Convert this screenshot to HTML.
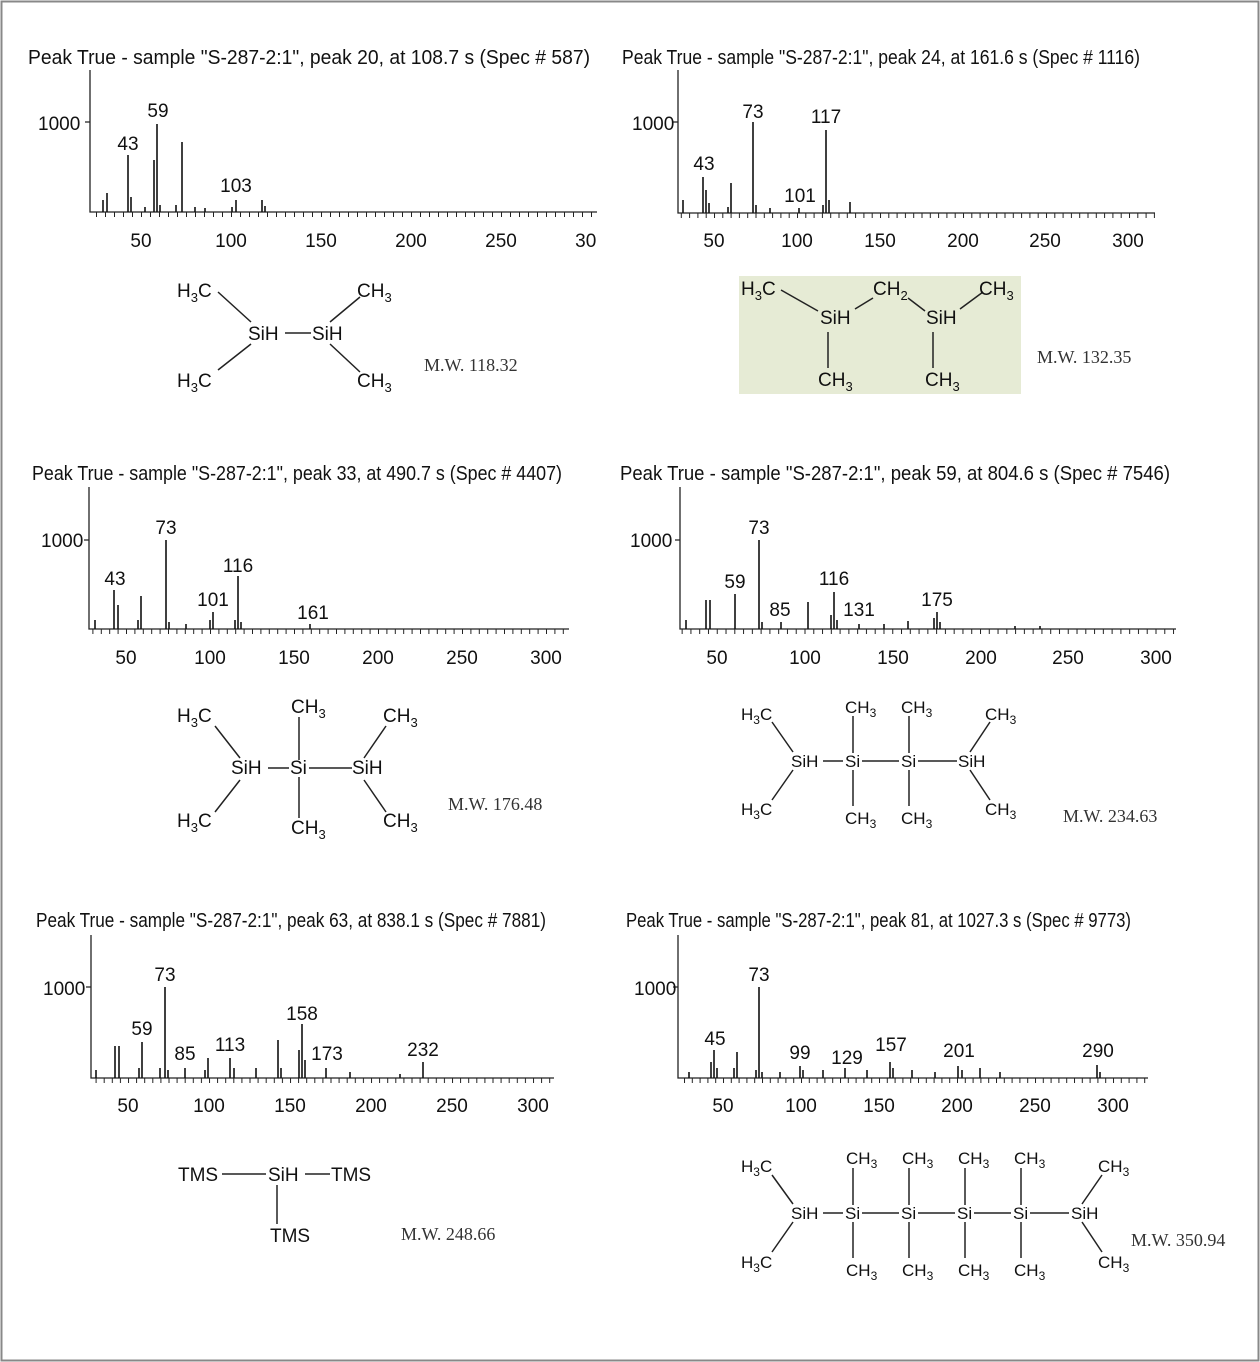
<!DOCTYPE html>
<html><head><meta charset="utf-8"><style>
html,body{margin:0;padding:0;background:#fff}
svg{display:block}
text{font-family:"Liberation Sans",sans-serif;fill:#111}
.t{font-size:20px}
.n{font-size:19px}
.m{font-size:19px}
.s{font-size:17px}
.mw{font-family:"Liberation Serif",serif;font-size:18px;fill:#333}
.ax{stroke:#222;stroke-width:1.3;fill:none}
.pk{stroke:#111;stroke-width:1.6;fill:none}
.b{stroke:#222;stroke-width:1.5}
</style></head><body>
<svg width="1260" height="1362" viewBox="0 0 1260 1362" xmlns="http://www.w3.org/2000/svg">
<defs>
<pattern id="p1" patternUnits="userSpaceOnUse" x="51" y="212" width="9" height="6"><line x1="0.5" y1="0" x2="0.5" y2="5" stroke="#222"/></pattern>
<pattern id="p2" patternUnits="userSpaceOnUse" x="631" y="213" width="8.3" height="6"><line x1="0.5" y1="0" x2="0.5" y2="5" stroke="#222"/></pattern>
<pattern id="p3" patternUnits="userSpaceOnUse" x="42" y="629" width="8.4" height="6"><line x1="0.5" y1="0" x2="0.5" y2="5" stroke="#222"/></pattern>
<pattern id="p4" patternUnits="userSpaceOnUse" x="629" y="629" width="8.775" height="6"><line x1="0.5" y1="0" x2="0.5" y2="5" stroke="#222"/></pattern>
<pattern id="p5" patternUnits="userSpaceOnUse" x="47" y="1078" width="8.1" height="6"><line x1="0.5" y1="0" x2="0.5" y2="5" stroke="#222"/></pattern>
<pattern id="p6" patternUnits="userSpaceOnUse" x="645" y="1078" width="7.8" height="6"><line x1="0.5" y1="0" x2="0.5" y2="5" stroke="#222"/></pattern>
<clipPath id="c1"><rect x="0" y="0" width="597" height="400"/></clipPath>
</defs>
<rect x="1.5" y="1.5" width="1257" height="1359" fill="#fff" stroke="#888" stroke-width="2"/>

<!-- Panel 1 -->
<text class="t" x="28" y="64" textLength="562" lengthAdjust="spacingAndGlyphs">Peak True - sample "S-287-2:1", peak 20, at 108.7 s (Spec # 587)</text>
<path class="ax" d="M90 70 V212 H597 M85 122 H90"/>
<rect x="90" y="212" width="507" height="5" fill="url(#p1)"/>
<text class="n" x="38" y="130">1000</text>
<g class="n" text-anchor="middle"><text x="141" y="247">50</text><text x="231" y="247">100</text><text x="321" y="247">150</text><text x="411" y="247">200</text><text x="501" y="247">250</text><text x="591" y="247" clip-path="url(#c1)">300</text></g>
<path class="pk" d="M103 212V200M107 212V193M128 212V155M131 212V197M145 212V207M154 212V160M157 212V124M160 212V205M176 212V205M182 212V142M195 212V207M205 212V208M232 212V207M236 212V200M262 212V200M265 212V206"/>
<g class="n" text-anchor="middle"><text x="128" y="150">43</text><text x="158" y="117">59</text><text x="236" y="192">103</text></g>
<g class="b"><line x1="218" y1="292" x2="251" y2="322"/><line x1="218" y1="370" x2="251" y2="344"/><line x1="285" y1="333" x2="311" y2="333"/><line x1="330" y1="322" x2="360" y2="297"/><line x1="330" y1="344" x2="360" y2="372"/></g>
<text class="m" x="177" y="297">H<tspan font-size="13" dy="5">3</tspan><tspan dy="-5">C</tspan></text>
<text class="m" x="177" y="387">H<tspan font-size="13" dy="5">3</tspan><tspan dy="-5">C</tspan></text>
<text class="m" x="248" y="340">SiH</text><text class="m" x="312" y="340">SiH</text>
<text class="m" x="357" y="297">CH<tspan font-size="13" dy="5">3</tspan></text>
<text class="m" x="357" y="387">CH<tspan font-size="13" dy="5">3</tspan></text>
<text class="mw" x="424" y="371">M.W. 118.32</text>

<!-- Panel 2 -->
<text class="t" x="622" y="64" textLength="518" lengthAdjust="spacingAndGlyphs">Peak True - sample "S-287-2:1", peak 24, at 161.6 s (Spec # 1116)</text>
<path class="ax" d="M678 70 V213 H1155 M673 122 H678"/>
<rect x="678" y="213" width="477" height="5" fill="url(#p2)"/>
<text class="n" x="632" y="130">1000</text>
<g class="n" text-anchor="middle"><text x="714" y="247">50</text><text x="797" y="247">100</text><text x="880" y="247">150</text><text x="963" y="247">200</text><text x="1045" y="247">250</text><text x="1128" y="247">300</text></g>
<path class="pk" d="M683 213V200M703 213V177M706 213V190M709 213V203M728 213V207M731 213V183M753 213V122M756 213V205M770 213V208M799 213V208M823 213V205M826 213V130M829 213V200M850 213V202"/>
<g class="n" text-anchor="middle"><text x="704" y="170">43</text><text x="753" y="118">73</text><text x="826" y="123">117</text><text x="800" y="202">101</text></g>
<rect x="739" y="276" width="282" height="118" fill="#e6ebd5"/>
<g class="b"><line x1="781" y1="290" x2="818" y2="311"/><line x1="855" y1="309" x2="873" y2="298"/><line x1="908" y1="298" x2="925" y2="311"/><line x1="960" y1="309" x2="983" y2="292"/><line x1="828" y1="332" x2="828" y2="368"/><line x1="933" y1="332" x2="933" y2="368"/></g>
<text class="m" x="741" y="295">H<tspan font-size="13" dy="5">3</tspan><tspan dy="-5">C</tspan></text>
<text class="m" x="873" y="295">CH<tspan font-size="13" dy="5">2</tspan></text>
<text class="m" x="979" y="295">CH<tspan font-size="13" dy="5">3</tspan></text>
<text class="m" x="820" y="324">SiH</text><text class="m" x="926" y="324">SiH</text>
<text class="m" x="818" y="386">CH<tspan font-size="13" dy="5">3</tspan></text>
<text class="m" x="925" y="386">CH<tspan font-size="13" dy="5">3</tspan></text>
<text class="mw" x="1037" y="363">M.W. 132.35</text>

<!-- Panel 3 -->
<text class="t" x="32" y="480" textLength="530" lengthAdjust="spacingAndGlyphs">Peak True - sample "S-287-2:1", peak 33, at 490.7 s (Spec # 4407)</text>
<path class="ax" d="M89 487 V629 H569 M84 540 H89"/>
<rect x="89" y="629" width="480" height="5" fill="url(#p3)"/>
<text class="n" x="41" y="547">1000</text>
<g class="n" text-anchor="middle"><text x="126" y="664">50</text><text x="210" y="664">100</text><text x="294" y="664">150</text><text x="378" y="664">200</text><text x="462" y="664">250</text><text x="546" y="664">300</text></g>
<path class="pk" d="M95 629V620M114 629V590M118 629V605M138 629V620M141 629V596M166 629V540M169 629V622M186 629V624M210 629V620M213 629V612M235 629V620M238 629V576M241 629V622M310 629V624"/>
<g class="n" text-anchor="middle"><text x="115" y="585">43</text><text x="166" y="534">73</text><text x="238" y="572">116</text><text x="213" y="606">101</text><text x="313" y="619">161</text></g>
<g class="b"><line x1="215" y1="726" x2="240" y2="758"/><line x1="215" y1="812" x2="240" y2="780"/><line x1="268" y1="768" x2="289" y2="768"/><line x1="309" y1="768" x2="352" y2="768"/><line x1="299" y1="717" x2="299" y2="760"/><line x1="299" y1="777" x2="299" y2="818"/><line x1="364" y1="758" x2="386" y2="726"/><line x1="364" y1="780" x2="386" y2="812"/></g>
<text class="m" x="177" y="722">H<tspan font-size="13" dy="5">3</tspan><tspan dy="-5">C</tspan></text>
<text class="m" x="177" y="827">H<tspan font-size="13" dy="5">3</tspan><tspan dy="-5">C</tspan></text>
<text class="m" x="291" y="713">CH<tspan font-size="13" dy="5">3</tspan></text>
<text class="m" x="291" y="834">CH<tspan font-size="13" dy="5">3</tspan></text>
<text class="m" x="383" y="722">CH<tspan font-size="13" dy="5">3</tspan></text>
<text class="m" x="383" y="827">CH<tspan font-size="13" dy="5">3</tspan></text>
<text class="m" x="231" y="774">SiH</text><text class="m" x="290" y="774">Si</text><text class="m" x="352" y="774">SiH</text>
<text class="mw" x="448" y="810">M.W. 176.48</text>

<!-- Panel 4 -->
<text class="t" x="620" y="480" textLength="550" lengthAdjust="spacingAndGlyphs">Peak True - sample "S-287-2:1", peak 59, at 804.6 s (Spec # 7546)</text>
<path class="ax" d="M680 487 V629 H1176 M675 540 H680"/>
<rect x="680" y="629" width="496" height="5" fill="url(#p4)"/>
<text class="n" x="630" y="547">1000</text>
<g class="n" text-anchor="middle"><text x="717" y="664">50</text><text x="805" y="664">100</text><text x="893" y="664">150</text><text x="981" y="664">200</text><text x="1068" y="664">250</text><text x="1156" y="664">300</text></g>
<path class="pk" d="M686 629V620M706 629V600M710 629V600M735 629V594M759 629V540M762 629V622M781 629V622M808 629V602M831 629V615M834 629V592M837 629V620M859 629V624M884 629V624M908 629V621M934 629V618M937 629V612M940 629V622M1015 629V626M1040 629V626"/>
<g class="n" text-anchor="middle"><text x="735" y="588">59</text><text x="759" y="534">73</text><text x="834" y="585">116</text><text x="937" y="606">175</text><text x="780" y="616">85</text><text x="859" y="616">131</text></g>
<g class="b"><line x1="772" y1="722" x2="793" y2="752"/><line x1="772" y1="800" x2="793" y2="770"/><line x1="823" y1="761" x2="843" y2="761"/><line x1="862" y1="761" x2="899" y2="761"/><line x1="918" y1="761" x2="957" y2="761"/><line x1="853" y1="716" x2="853" y2="753"/><line x1="853" y1="770" x2="853" y2="806"/><line x1="909" y1="716" x2="909" y2="753"/><line x1="909" y1="770" x2="909" y2="806"/><line x1="970" y1="752" x2="990" y2="722"/><line x1="970" y1="770" x2="990" y2="800"/></g>
<g class="s">
<text x="741" y="720">H<tspan font-size="12" dy="4">3</tspan><tspan dy="-4">C</tspan></text>
<text x="741" y="815">H<tspan font-size="12" dy="4">3</tspan><tspan dy="-4">C</tspan></text>
<text x="845" y="713">CH<tspan font-size="12" dy="4">3</tspan></text>
<text x="901" y="713">CH<tspan font-size="12" dy="4">3</tspan></text>
<text x="985" y="720">CH<tspan font-size="12" dy="4">3</tspan></text>
<text x="845" y="824">CH<tspan font-size="12" dy="4">3</tspan></text>
<text x="901" y="824">CH<tspan font-size="12" dy="4">3</tspan></text>
<text x="985" y="815">CH<tspan font-size="12" dy="4">3</tspan></text>
<text x="791" y="767">SiH</text><text x="845" y="767">Si</text><text x="901" y="767">Si</text><text x="958" y="767">SiH</text>
</g>
<text class="mw" x="1063" y="822">M.W. 234.63</text>

<!-- Panel 5 -->
<text class="t" x="36" y="927" textLength="510" lengthAdjust="spacingAndGlyphs">Peak True - sample "S-287-2:1", peak 63, at 838.1 s (Spec # 7881)</text>
<path class="ax" d="M91 935 V1078 H554 M86 987 H91"/>
<rect x="91" y="1078" width="463" height="5" fill="url(#p5)"/>
<text class="n" x="43" y="995">1000</text>
<g class="n" text-anchor="middle"><text x="128" y="1112">50</text><text x="209" y="1112">100</text><text x="290" y="1112">150</text><text x="371" y="1112">200</text><text x="452" y="1112">250</text><text x="533" y="1112">300</text></g>
<path class="pk" d="M96 1078V1070M115 1078V1046M119 1078V1046M139 1078V1068M142 1078V1042M160 1078V1068M165 1078V987M168 1078V1070M185 1078V1068M205 1078V1070M208 1078V1058M230 1078V1058M234 1078V1068M256 1078V1068M278 1078V1040M281 1078V1068M299 1078V1050M302 1078V1024M305 1078V1060M326 1078V1068M350 1078V1072M400 1078V1074M423 1078V1062"/>
<g class="n" text-anchor="middle"><text x="142" y="1035">59</text><text x="165" y="981">73</text><text x="185" y="1060">85</text><text x="230" y="1051">113</text><text x="302" y="1020">158</text><text x="327" y="1060">173</text><text x="423" y="1056">232</text></g>
<g class="b"><line x1="222" y1="1174" x2="266" y2="1174"/><line x1="305" y1="1174" x2="330" y2="1174"/><line x1="277" y1="1185" x2="277" y2="1224"/></g>
<g class="m"><text x="178" y="1181">TMS</text><text x="268" y="1181">SiH</text><text x="331" y="1181">TMS</text><text x="270" y="1242">TMS</text></g>
<text class="mw" x="401" y="1240">M.W. 248.66</text>

<!-- Panel 6 -->
<text class="t" x="626" y="927" textLength="505" lengthAdjust="spacingAndGlyphs">Peak True - sample "S-287-2:1", peak 81, at 1027.3 s (Spec # 9773)</text>
<path class="ax" d="M678 935 V1078 H1148 M673 987 H678"/>
<rect x="678" y="1078" width="470" height="5" fill="url(#p6)"/>
<text class="n" x="634" y="995">1000</text>
<g class="n" text-anchor="middle"><text x="723" y="1112">50</text><text x="801" y="1112">100</text><text x="879" y="1112">150</text><text x="957" y="1112">200</text><text x="1035" y="1112">250</text><text x="1113" y="1112">300</text></g>
<path class="pk" d="M689 1078V1072M711 1078V1062M714 1078V1050M717 1078V1068M734 1078V1068M737 1078V1052M756 1078V1070M759 1078V987M762 1078V1072M780 1078V1072M800 1078V1066M803 1078V1070M823 1078V1070M845 1078V1068M867 1078V1070M890 1078V1062M893 1078V1068M912 1078V1070M935 1078V1072M958 1078V1066M962 1078V1070M980 1078V1068M1000 1078V1072M1097 1078V1065M1100 1078V1072"/>
<g class="n" text-anchor="middle"><text x="715" y="1045">45</text><text x="759" y="981">73</text><text x="800" y="1059">99</text><text x="847" y="1064">129</text><text x="891" y="1051">157</text><text x="959" y="1057">201</text><text x="1098" y="1057">290</text></g>
<g class="b"><line x1="772" y1="1175" x2="793" y2="1204"/><line x1="772" y1="1252" x2="793" y2="1222"/><line x1="823" y1="1213" x2="843" y2="1213"/><line x1="862" y1="1213" x2="899" y2="1213"/><line x1="918" y1="1213" x2="955" y2="1213"/><line x1="974" y1="1213" x2="1011" y2="1213"/><line x1="1030" y1="1213" x2="1069" y2="1213"/>
<line x1="853" y1="1168" x2="853" y2="1205"/><line x1="853" y1="1222" x2="853" y2="1258"/><line x1="909" y1="1168" x2="909" y2="1205"/><line x1="909" y1="1222" x2="909" y2="1258"/><line x1="965" y1="1168" x2="965" y2="1205"/><line x1="965" y1="1222" x2="965" y2="1258"/><line x1="1021" y1="1168" x2="1021" y2="1205"/><line x1="1021" y1="1222" x2="1021" y2="1258"/>
<line x1="1082" y1="1204" x2="1102" y2="1175"/><line x1="1082" y1="1222" x2="1102" y2="1252"/></g>
<g class="s">
<text x="741" y="1172">H<tspan font-size="12" dy="4">3</tspan><tspan dy="-4">C</tspan></text>
<text x="741" y="1268">H<tspan font-size="12" dy="4">3</tspan><tspan dy="-4">C</tspan></text>
<text x="846" y="1164">CH<tspan font-size="12" dy="4">3</tspan></text>
<text x="902" y="1164">CH<tspan font-size="12" dy="4">3</tspan></text>
<text x="958" y="1164">CH<tspan font-size="12" dy="4">3</tspan></text>
<text x="1014" y="1164">CH<tspan font-size="12" dy="4">3</tspan></text>
<text x="1098" y="1172">CH<tspan font-size="12" dy="4">3</tspan></text>
<text x="846" y="1276">CH<tspan font-size="12" dy="4">3</tspan></text>
<text x="902" y="1276">CH<tspan font-size="12" dy="4">3</tspan></text>
<text x="958" y="1276">CH<tspan font-size="12" dy="4">3</tspan></text>
<text x="1014" y="1276">CH<tspan font-size="12" dy="4">3</tspan></text>
<text x="1098" y="1268">CH<tspan font-size="12" dy="4">3</tspan></text>
<text x="791" y="1219">SiH</text><text x="845" y="1219">Si</text><text x="901" y="1219">Si</text><text x="957" y="1219">Si</text><text x="1013" y="1219">Si</text><text x="1071" y="1219">SiH</text>
</g>
<text class="mw" x="1131" y="1246">M.W. 350.94</text>
</svg>
</body></html>
